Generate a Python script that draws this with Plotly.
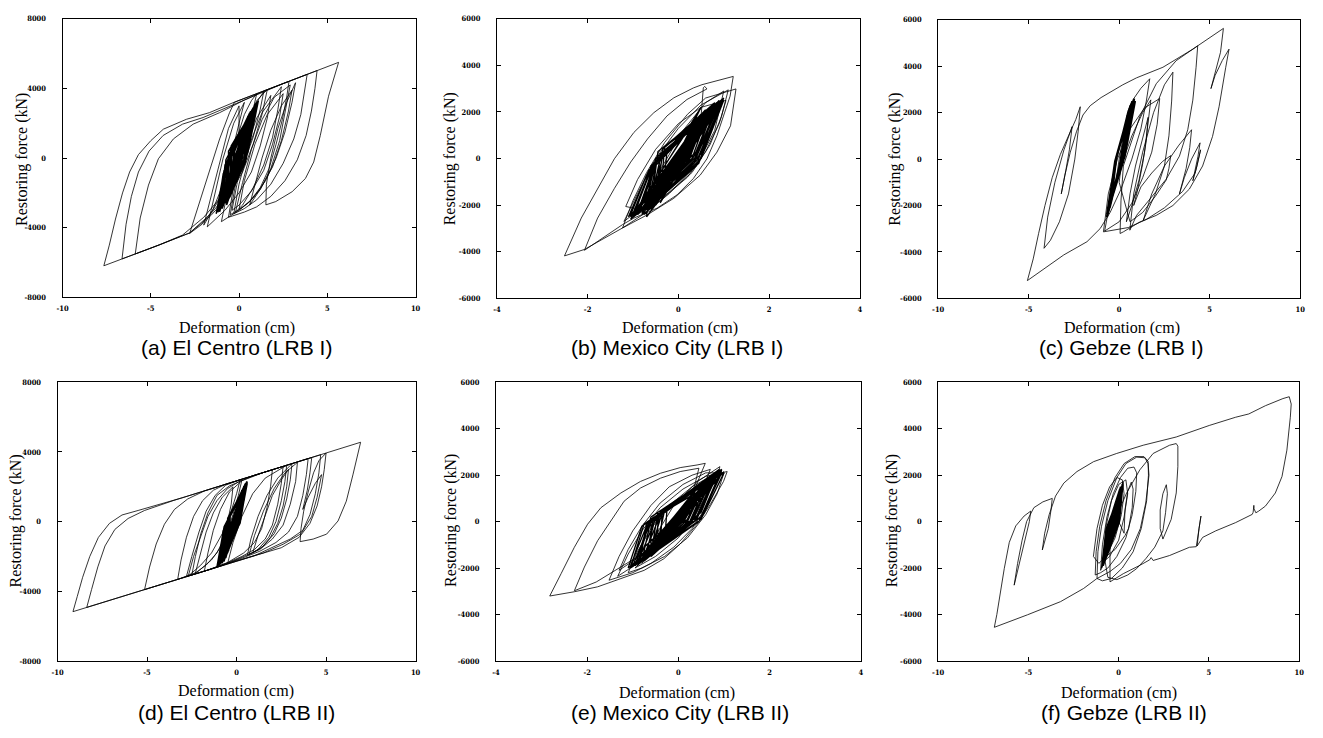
import plotly.graph_objects as go

# ---------------- data (deformation cm, restoring force kN) ----------------
el_centro_lrb1 = [
    (0,0),(0.4,1600),(-0.3,-1300),(0.6,2200),(-0.5,-2100),(0.7,2500),
    (0.3,1000),(-0.3,-700),(-0.9,-2000),(-1.5,-3000),(-2.1,-3800),(-2.8,-4330),
    (-2.23,-2500),(-1.67,-600),(-1.1,1100),(-0.54,2610),(-0.26,3210),(1.0,3700),(2.83,4410),
    (2.7,3500),(2.45,2200),(2.1,800),(1.7,-600),(1.2,-1700),(0.6,-2500),(0.0,-3000),(-1.0,-3650),
    (-0.7,-2200),(-0.4,-500),(-0.1,1200),(0.3,2500),(0.7,3300),(1.0,3700),
    (0.8,2800),(0.4,1200),(-0.2,-600),(-1.0,-2200),(-2.0,-3400),(-3.2,-4420),(-4.5,-4980),(-5.88,-5506),
    (-5.6,-3440),(-5.13,-1550),(-4.57,-40),(-3.72,1100),(-2.6,1950),(-1.1,2610),(0.3,3330),(1.5,3890),(3.0,4480),(4.5,5060),(5.64,5500),
    (5.07,3555),(4.6,1286),(4.23,-227),(3.76,-1172),(3.01,-1929),(2.08,-2497),(1.52,-2686),
    (1.55,-1500),(1.8,0),(2.2,1700),(2.7,3200),(3.2,4330),
    (3.0,3200),(2.6,1500),(2.1,0),(1.5,-1300),(0.8,-2300),(0.1,-2900),(-0.5,-3250),
    (-0.2,-1500),(0.2,500),(0.6,2200),(1.0,3300),(1.6,3935),
    (1.3,2500),(0.8,800),(0.2,-800),(-0.6,-2200),(-1.6,-3300),(-2.8,-4300),(-5.0,-5170),(-7.66,-6185),
    (-7.35,-5000),(-7.0,-3500),(-6.6,-2000),(-6.2,-800),(-5.7,200),(-5.0,1000),(-4.29,1660),(-2.98,2230),(-1.68,2610),(-0.35,3178),(1.5,3896),(3.0,4478),(4.42,5029),
    (4.3,4000),(4.1,2700),(3.8,1300),(3.3,-100),(2.6,-1300),(1.8,-2200),(1.0,-2800),(0.3,-3100),(-0.6,-3400),
    (-0.3,-1600),(0.1,400),(0.5,2100),(1.0,3200),(1.4,3830),
    (1.2,2800),(0.8,1200),(0.2,-500),(-0.6,-2000),(-1.6,-3200),(-2.8,-4300),(-4.5,-4980),(-6.63,-5790),
    (-6.4,-3800),(-6.1,-2200),(-5.7,-800),(-5.1,400),(-4.3,1300),(-3.2,1950),(-2.04,2330),(-0.5,3000),(1.0,3650),(2.5,4280),(3.86,4812),
    (3.7,3800),(3.5,2500),(3.1,1100),(2.5,-300),(1.8,-1500),(1.0,-2400),(0.3,-2900),(-0.3,-3200),
    (0.0,-1500),(0.6,800),(1.3,2600),(2.4,4100),
    (2.2,2800),(1.9,1200),(1.4,-400),(0.8,-1700),(0.2,-2700),(-0.2,-3100),
    (0.2,-1400),(0.7,500),(1.3,2200),(2.0,3500),(2.9,4200),
    (2.6,2600),(2.3,1000),(1.8,-600),(1.2,-1800),(0.6,-2700),
    (0.9,-1500),(1.3,0),(1.8,1600),(2.4,3000),(3.0,3900),
    (2.8,2700),(2.4,1000),(1.9,-500),(1.2,-1800),(0.5,-2600),(0.0,-2950),
    (0.3,-1300),(0.9,800),(1.6,2500),(2.5,3700),
    (2.3,2400),(1.9,800),(1.4,-700),(0.7,-1900),(0.0,-2700),(-0.4,-3000),
    (-0.1,-1400),(0.4,600),(1.0,2300),(1.8,3600),
    (1.6,2300),(1.2,700),(0.7,-800),(0.0,-2000),(-0.8,-3000),(-1.8,-3950),
    (-1.4,-2200),(-0.9,0),(-0.3,2000),(0.3,3200),
    (0.0,2000),(-0.4,300),(-0.9,-1500),(-1.5,-3000),(-2.0,-3850),
    (-1.6,-2300),(-1.1,-300),(-0.6,1700),(0.0,3000),(0,0),
]
core_a = [
    (-1.0,-2900),(-0.7,-200),(0.7,2700),(0.2,100),(-0.6,-2400),(-0.6,400),(0.9,3000),(0.35,-300),
    (-1.2,-3100),(-0.8,-600),(0.4,2000),(0.0,-200),(-0.4,-2000),(-0.5,500),(1.0,3200),(0.45,200),
    (-0.9,-2700),(-0.75,-100),(0.6,2500),(0.15,-100),(-1.3,-3200),(-0.85,-700),(0.8,2900),(0.3,-400),
    (-0.7,-2500),(-0.55,200),(0.3,1700),(-0.1,-100),(-0.3,-1700),(-0.45,700),(1.1,3300),(0.5,300),
    (-1.1,-3000),(-0.7,-300),(0.5,2300),(0.05,-300),(-0.8,-2600),(-0.6,0),(0.95,3100),(0.4,0),
    (-0.5,-2200),(-0.5,300),(0.2,1500),(-0.15,-200),(-1.0,-2800),(-0.65,-100),(0.75,2800),(0.25,-200),
    (-0.6,-2300),(-0.35,600),(0.6,2600),(0.3,400),(-1.2,-2900),(-0.9,-900),(0.35,1900),(-0.05,-500),
    (-0.35,-1800),(-0.3,400),(0.85,2900),(0.35,100),(-0.9,-2600),(-0.5,100),(0.5,2200),(0.2,0),
    (-0.7,-2700),(-0.7,-400),(1.0,3100),(0.4,-100),(-1.15,-3000),(-0.6,-200),(0.65,2500),(0.1,-100),
    (-0.45,-2000),(-0.4,200),(0.4,2100),(0.1,100),(-0.85,-2500),(-0.6,-300),(0.8,2700),(0.3,-200),
    (-0.55,-2300),(-0.2,800),(0.7,2400),(0.4,600),(-1.05,-2800),(-0.8,-400),(0.25,1600),(-0.1,-300),
    (-0.25,-1500),(-0.25,400),(0.55,2300),(0.2,300),(-0.95,-2900),(-0.55,0),(0.9,2900),(0.3,0),
    (-0.65,-2400),(-0.45,0),(0.45,2200),(0.05,0),
    (-1.0,-2800),(0.7,2700),(-0.7,-2600),(0.9,3100),(-1.2,-3000),(0.5,2400),(-0.5,-2200),(1.0,3200),
    (-0.9,-2700),(0.6,2600),(-1.1,-3100),(0.8,2900),(-0.6,-2400),(0.4,2000),(-0.8,-2500),(0.95,3000),
    (-1.3,-3200),(0.65,2700),
]

mexico_lrb1 = [
    (0,0),(0.4,1400),(-0.3,-1000),(0.5,1600),(-0.5,-1700),
    (-0.8,-2300),(-0.4,-500),(0.1,1200),(0.6,2400),(1.0,2900),
    (0.8,1200),(0.4,-300),(-0.2,-1500),(-0.7,-2300),(-1.23,-2977),
    (-1.0,-1800),(-0.7,-600),(-0.3,700),(0.2,1900),(0.6,2600),(1.27,2990),
    (1.15,1408),(0.85,276),(0.48,-713),(-0.10,-1705),(-0.68,-2409),(-1.23,-2977),(-2.07,-3900),(-2.51,-4177),
    (-2.14,-2553),(-1.78,-1281),(-1.41,-8),(-0.98,1124),(-0.54,1972),(-0.10,2608),(0.33,3032),(0.52,3172),(1.21,3528),
    (1.14,2680),(0.99,1831),(0.85,983),(0.63,-8),(0.33,-857),(-0.03,-1560),(-0.47,-2129),(-0.98,-2553),(-1.23,-2833),(-2.07,-3937),
    (-1.78,-2553),(-1.41,-1281),(-1.05,-148),(-0.68,842),(-0.25,1831),(0.19,2538),(0.63,2990),
    (0.58,3100),(0.55,3040),
    (0.5,1800),(0.2,300),(-0.3,-1100),(-0.8,-2100),(-1.2,-2700),
    (-0.9,-1500),(-0.5,0),(0.0,1300),(0.5,2300),(1.1,2950),
    (0.95,1800),(0.7,600),(0.3,-600),(-0.3,-1600),(-0.8,-2200),(-1.16,-2057),
    (-0.9,-900),(-0.5,400),(0.0,1500),(0.5,2200),(1.05,2500),
    (0.9,1500),(0.6,300),(0.2,-800),(-0.4,-1800),(-0.9,-2400),(0,0),
]
core_b = [
    (-0.9,-2400),(-0.5,-100),(0.8,2300),(0.35,100),(-0.6,-2000),(-0.45,300),(0.95,2500),(0.45,-200),
    (-1.05,-2600),(-0.6,-400),(0.6,1900),(0.15,-100),(-0.45,-1700),(-0.35,400),(1.0,2600),(0.5,200),
    (-0.85,-2300),(-0.55,-200),(0.7,2200),(0.3,0),(-1.1,-2500),(-0.65,-500),(0.85,2400),(0.4,-300),
    (-0.7,-2200),(-0.45,100),(0.5,1700),(0.1,-100),(-0.4,-1600),(-0.3,500),(0.9,2300),(0.45,300),
    (-1.0,-2500),(-0.55,-200),(0.65,2000),(0.2,-200),(-0.75,-2400),(-0.5,0),(1.0,2500),(0.5,0),
    (-0.5,-1900),(-0.4,200),(0.45,1600),(0.05,-100),(-0.95,-2300),(-0.6,-300),(0.75,2300),(0.35,-100),
    (-0.6,-2100),(-0.3,500),(0.8,2400),(0.45,400),(-1.05,-2400),(-0.7,-700),(0.55,1800),(0.1,-400),
    (-0.35,-1500),(-0.25,300),(0.9,2500),(0.4,100),(-0.85,-2200),(-0.45,0),(0.6,2000),(0.25,0),
    (-0.7,-2500),(-0.6,-300),(0.95,2400),(0.4,-100),(-0.9,-2300),(-0.5,-100),(0.7,2100),(0.2,0),
    (-0.5,-2000),(-0.35,200),(0.5,1900),(0.2,200),(-0.8,-2400),(-0.5,-200),(0.85,2300),(0.35,-200),
    (-0.65,-2200),(-0.4,0),(0.6,2100),(0.25,100),
    (-0.9,-2400),(0.85,2400),(-0.7,-2300),(0.95,2500),(-1.0,-2500),(0.5,2200),(-0.6,-2200),(1.0,2500),
    (-0.8,-2300),(0.6,2000),(-1.05,-2500),(0.9,2300),(-0.5,-1800),(0.75,2300),(-0.95,-2400),(0.8,2400),
    (-0.75,-2200),(0.65,2100),(-1.0,-2400),(0.4,1800),(-0.4,-1900),(0.9,2400),
    (-0.5,-1500),(0.3,1200),(-0.4,-1000),(0.45,1500),(-0.6,-1700),(0.2,900),(-0.3,-700),(0.5,1700),
    (-0.55,-1300),(0.35,1300),(-0.2,-500),(0.25,900),(-0.45,-1200),(0.4,1100),(-0.35,-1000),(0.55,1800),
    (-0.65,-1800),(0.15,600),(-0.25,-900),(0.3,1000),(-0.5,-1100),(0.1,400),(-0.15,-300),(0.35,900),
    (-0.6,-1400),(0.5,1400),(-0.3,-1200),(0.2,700),(0,0),
]

gebze_lrb1 = [
    (0,0),(0.45,1900),(0.15,0),(-0.5,-2000),(-0.15,0),(0.6,2300),(0.2,0),(-0.6,-2300),(-0.2,0),(0.8,2600),
    (1.2,3050),(1.69,3460),
    (1.5,2500),(1.2,1300),(0.7,0),(0.1,-1300),(-0.5,-2300),(-1.05,-2993),(-1.78,-3560),(-3.06,-4128),(-5.07,-5234),
    (-4.75,-4300),(-4.45,-3200),(-4.1,-2000),(-3.7,-800),(-3.25,200),(-2.8,1000),(-2.4,1700),(-2.15,2255),
    (-2.25,1300),(-2.45,0),(-2.8,-1500),(-3.3,-2700),(-3.8,-3500),(-4.15,-3843),
    (-3.95,-2500),(-3.55,-1000),(-3.05,400),(-2.6,1400),
    (-2.75,400),(-2.95,-500),(-3.2,-1500),
    (-3.0,-700),(-2.7,300),(-2.35,1200),(-2.0,1900),(-1.6,2300),(-1.0,2650),(-0.5,2894),(0.2,3200),(0.96,3500),(2.42,3957),(4.07,4736),(5.76,5630),
    (5.6,4600),(5.3,3700),(5.07,3034),
    (5.3,3600),(5.7,4250),(6.07,4736),
    (5.89,3957),(5.52,2255),(5.16,979),(4.61,-298),(3.88,-1291),(2.97,-2000),(2.05,-2426),(1.14,-2709),(0.23,-3135),(0.05,-3206),
    (0.1,-1800),(0.23,-298),(1.14,1830),(2.05,3247),(3.15,4240),(4.34,4880),
    (4.25,3957),(4.07,2540),(3.79,1264),(3.33,128),(2.6,-864),(1.69,-1715),(0.96,-2426),(0.59,-3064),
    (0.8,-1500),(1.3,300),(1.9,2000),(2.5,3200),(2.97,3745),
    (2.9,2500),(2.75,1000),(2.5,-300),(2.0,-1500),(1.33,-2638),
    (1.8,-1500),(2.5,-300),(3.3,600),(4.0,1264),
    (3.9,500),(3.7,-400),(3.33,-1500),
    (3.6,-800),(4.0,0),(4.47,700),
    (4.35,100),(4.07,-936),
    (4.3,-300),(4.5,400),
    (4.2,-600),(3.5,-1400),(2.5,-2100),(1.5,-2600),(0.5,-2950),(-0.87,-3135),
    (-0.6,-1500),(-0.1,0),(0.6,1300),(1.4,2200),(2.24,2610),
    (2.1,1500),(1.8,300),(1.3,-800),(0.7,-1900),(0.0,-2700),(-0.8,-3100),
    (-0.5,-1800),(0.1,-300),(0.7,1000),(1.3,2000),(1.75,2550),
    (1.6,1500),(1.4,300),(1.1,-900),(0.7,-2000),(0.4,-2700),
    (0.6,-1500),(0.9,-300),(1.3,900),(1.6,1800),
    (1.5,800),(1.3,-200),(1.0,-1400),(0.8,-2000),
    (1.2,-1200),(1.8,-600),(2.4,-100),(2.85,150),(2.75,-400),(2.6,-900),(2.0,-1600),(1.3,-2300),(0.6,-2700),
    (0.0,-1000),(0.3,900),(-0.2,-1100),(0,0),
]
core_c = [
    (-0.6,-2300),(-0.2,0),(0.65,2400),(0.2,0),(-0.5,-2000),(-0.15,100),(0.8,2600),(0.25,-100),
    (-0.7,-2500),(-0.25,-100),(0.5,2000),(0.1,0),(-0.45,-1800),(-0.1,200),(0.7,2500),(0.25,100),
    (-0.65,-2400),(-0.2,-100),(0.55,2200),(0.15,0),(-0.55,-2200),(-0.15,0),(0.75,2500),(0.2,0),
    (-0.7,-2400),(-0.25,-200),(0.45,1900),(0.05,-100),(-0.4,-1700),(-0.1,300),(0.85,2600),(0.3,200),
    (-0.6,-2300),(-0.2,0),(0.6,2300),(0.15,0),(-0.5,-2100),(-0.15,0),(0.7,2400),(0.2,0),
    (-0.65,-2500),(-0.2,-100),(0.5,2100),(0.1,0),(-0.55,-2000),(-0.15,100),(0.9,2500),(0.3,0),
]

el_centro_lrb2 = [
    (0,0),(0.55,2300),
    (0.4,1200),(-0.1,0),(-0.7,-1200),(-1.4,-2200),(-2.2,-2900),(-3.29,-3318),
    (-3.1,-2200),(-2.8,-900),(-2.4,300),(-1.9,1200),(-1.3,1800),(-0.6,2150),(0.5,2500),(2.0,2980),
    (1.9,2000),(1.7,800),(1.4,-400),(1.0,-1200),(0.4,-1800),(-0.5,-2350),(-1.5,-2750),(-2.5,-3070),
    (-2.3,-2000),(-2.0,-700),(-1.6,500),(-1.1,1500),(-0.4,2050),(1.0,2660),(2.6,3170),
    (2.5,2200),(2.3,1000),(2.0,-200),(1.6,-1000),(1.0,-1600),(0.3,-2000),(-0.6,-2400),(-1.8,-2850),
    (-1.6,-1800),(-1.3,-500),(-0.9,700),(-0.4,1700),(0.3,2350),(1.5,2820),(3.2,3364),(4.7,3844),
    (4.6,2800),(4.4,1600),(4.1,400),(3.7,-500),(3.0,-1000),(2.0,-1500),(1.0,-1960),(0.0,-2275),(-1.0,-2592),(-3.0,-3226),(-5.14,-3904),
    (-4.86,-2610),(-4.49,-1286),(-4.03,-151),(-3.47,700),(-2.73,1300),(-1.8,1760),(-0.5,2180),(1.0,2660),(2.5,3140),(4.0,3620),
    (3.9,2700),(3.7,1500),(3.4,300),(2.9,-600),(2.2,-1200),(1.3,-1700),(0.3,-2100),(-1.0,-2592),(-4.0,-3543),(-8.37,-4928),
    (-8.1,-3900),(-7.75,-2600),(-7.35,-1400),(-6.8,-450),(-6.06,180),(-5.14,640),(-3.5,1220),(-1.5,1860),(1.0,2660),(3.5,3460),(6.93,4558),
    (6.5,2686),(6.13,1173),(5.67,38),(5.03,-719),(4.28,-1003),(3.55,-1150),
    (3.6,-400),(3.75,600),(4.0,1700),(4.3,2800),(4.6,3500),(5.0,3940),
    (4.9,3000),(4.75,2000),(4.5,900),(4.1,-100),(3.5,-900),(2.5,-1500),(1.0,-1960),(-1.0,-2592),(-3.0,-3226),(-6.0,-4177),(-9.14,-5172),
    (-8.9,-4300),(-8.6,-3200),(-8.2,-2000),(-7.72,-908),(-7.1,-100),(-6.4,380),(-5.5,640),(-3.0,1380),(0.0,2340),(2.5,3140),(4.2,3684),
    (4.1,2800),(3.95,1800),(3.7,700),
    (4.0,1400),(4.4,2200),(4.75,2700),
    (4.5,1400),(4.2,300),(3.6,-700),(2.6,-1300),(1.5,-1800),(0.5,-2100),(-0.5,-2400),
    (-0.2,-1200),(0.3,300),(0.9,1600),(1.6,2500),(2.8,3236),
    (2.7,2300),(2.5,1200),(2.2,0),(1.8,-900),(1.2,-1600),(0.6,-1950),
    (0.8,-1000),(1.2,300),(1.7,1500),(2.3,2500),(3.1,3330),
    (3.0,2400),(2.8,1300),(2.5,200),(2.1,-700),(1.5,-1400),(0.9,-1800),
    (1.2,-800),(1.6,400),(2.0,1500),(2.5,2400),(2.9,3000),
    (2.8,2000),(2.6,900),(2.3,-100),(1.9,-900),(1.4,-1500),(0.7,-1900),
    (1.0,-800),(1.5,600),(2.1,1900),(2.7,2800),(3.4,3400),
    (3.3,2300),(3.0,1000),(2.6,-200),(2.0,-1000),(1.3,-1600),(0.4,-2000),(-0.5,-2400),(-1.5,-2750),(-2.8,-3150),
    (-2.5,-2000),(-2.1,-600),(-1.7,600),(-1.2,1500),(-0.6,2100),(0.2,2400),
    (0.0,1600),(-0.3,600),(-0.8,-700),(-1.4,-1800),(-2.0,-2500),(-2.7,-3130),
    (-2.4,-2000),(-2.0,-800),(-1.6,300),(-1.1,1200),(-0.5,1900),(0.3,2400),
    (0.1,1500),(-0.2,400),(-0.6,-800),(-1.1,-1800),(-1.7,-2500),(-2.3,-2950),
    (-2.0,-1800),(-1.7,-600),(-1.3,500),(-0.8,1400),(-0.2,2000),
    (-0.3,1000),(-0.6,-500),(-0.9,-1800),(-1.0,-2300),(-0.5,-800),(0,0),
]
core_d = [
    (-0.9,-2400),(-0.6,-100),(0.5,2200),(0.15,0),(-0.6,-2000),(-0.5,200),(0.6,2300),(0.2,-100),
    (-1.1,-2600),(-0.7,-300),(0.3,1700),(-0.05,-100),(-0.45,-1700),(-0.4,300),(0.55,2200),(0.2,100),
    (-0.8,-2300),(-0.6,-100),(0.4,1900),(0.05,0),(-1.0,-2500),(-0.7,-400),(0.5,2100),(0.1,-200),
    (-0.7,-2200),(-0.5,0),(0.25,1500),(-0.1,-100),(-0.4,-1500),(-0.35,400),(0.6,2300),(0.25,200),
    (-0.95,-2500),(-0.6,-200),(0.35,1800),(0.0,-100),(-0.75,-2300),(-0.55,0),(0.55,2200),(0.2,0),
    (-0.55,-1900),(-0.45,200),(0.3,1600),(-0.05,0),(-1.05,-2600),(-0.75,-500),(0.45,2000),(0.1,-300),
    (-0.65,-2100),(-0.4,300),(0.5,2100),(0.25,300),(-0.85,-2400),(-0.6,-200),(0.4,1900),(0.05,-100),
    (-0.5,-1800),(-0.45,100),(0.6,2200),(0.2,0),(-0.9,-2300),(-0.55,0),(0.3,1700),(0.0,0),
    (-0.7,-2300),(-0.6,-200),(0.5,2000),(0.15,-100),(-1.0,-2400),(-0.6,-100),(0.45,2100),(0.1,0),
    (-1.0,-2500),(0.5,2200),(-0.8,-2400),(0.6,2300),(-1.1,-2600),(0.3,1800),(-0.6,-2100),(0.55,2200),
    (-0.9,-2300),(0.4,2000),(-1.05,-2500),(0.5,2100),(-0.7,-2300),(0.35,1800),(-0.95,-2400),(0.6,2200),
]

mexico_lrb2 = [
    (0,0),(-0.8,-1800),
    (-0.5,-600),(-0.1,700),(0.4,1700),(0.91,2369),
    (0.8,1500),(0.6,600),(0.3,-300),(-0.1,-1100),(-0.6,-1800),(-1.0,-2200),(-1.52,-2525),
    (-1.3,-1500),(-1.0,-400),(-0.6,700),(-0.2,1500),(0.3,2000),(0.7,2250),
    (0.55,1500),(0.35,700),(0.0,-300),(-0.5,-1300),(-1.0,-1950),(-1.33,-2355),
    (-1.1,-1400),(-0.8,-400),(-0.4,600),(0.1,1400),(0.6,1950),(1.07,2156),
    (0.99,1731),(0.70,738),(0.41,-113),(0.04,-965),(-0.32,-1603),(-0.75,-2099),(-1.26,-2454),(-1.77,-2809),(-2.28,-3021),(-2.82,-3206),
    (-2.57,-2241),(-2.28,-1106),(-1.99,-113),(-1.70,596),(-1.26,1234),(-0.83,1731),(-0.39,2085),(0.04,2326),(0.41,2440),(0.59,2511),
    (0.45,1850),(0.3,1100),(0.05,200),(-0.3,-600),(-0.8,-1400),(-1.4,-2100),(-1.8,-2600),(-2.28,-2979),
    (-2.06,-1957),(-1.77,-823),(-1.48,28),(-1.19,879),(-0.83,1447),(-0.39,1872),(0.04,2156),(0.45,2300),
    (0.35,1500),(0.15,600),(-0.2,-300),(-0.6,-1100),(-1.0,-1700),(-1.3,-2100),
    (-1.1,-1200),(-0.8,-200),(-0.4,800),(0.1,1600),(0.6,2100),(1.0,2100),
    (0.85,1200),(0.6,300),(0.2,-700),(-0.3,-1500),(-0.8,-2000),(-1.1,-2200),
    (-0.9,-1300),(-0.6,-300),(-0.2,700),(0.3,1500),(0.75,2000),
    (0.6,1100),(0.35,200),(0.0,-700),(-0.5,-1500),(-0.95,-2000),(0,0),
]
core_e = [
    (-0.9,-1800),(-0.6,200),(0.85,2100),(0.4,200),(-0.6,-1400),(-0.45,400),(0.95,2200),(0.5,100),
    (-1.05,-2000),(-0.75,-100),(0.6,1700),(0.2,100),(-0.4,-1100),(-0.35,500),(1.0,2100),(0.55,300),
    (-0.8,-1700),(-0.6,100),(0.75,1900),(0.3,0),(-1.1,-2000),(-0.8,-200),(0.5,1500),(0.1,0),
    (-0.55,-1300),(-0.4,400),(0.9,2250),(0.45,300),(-0.75,-1700),(-0.5,200),(0.65,1800),(0.25,0),
    (-0.3,-800),(-0.25,500),(0.45,1300),(0.15,300),(-0.95,-1900),(-0.65,0),(0.95,2250),(0.45,0),
    (-0.65,-1500),(-0.35,400),(0.7,1900),(0.35,200),(-0.85,-1800),(-0.7,-100),(0.55,1600),(0.15,-100),
    (-0.5,-1300),(-0.3,500),(0.85,2100),(0.5,400),(-1.0,-1900),(-0.6,0),(0.8,2000),(0.35,0),
    (-0.7,-1600),(-0.55,100),(0.6,1700),(0.2,0),(-0.45,-1200),(-0.45,300),(0.9,2200),(0.4,100),
    (-0.9,-1800),(-0.5,100),(0.7,1800),(0.3,100),(-0.6,-1500),(-0.6,0),(0.5,1500),(0.1,-100),
    (-0.8,-1700),(-0.4,300),(0.95,2100),(0.5,200),(-1.05,-1900),(-0.7,-200),(0.65,1900),(0.25,-100),
    (-0.9,-1800),(0.9,2200),(-0.7,-1600),(0.8,2000),(-1.0,-1900),(0.6,1700),(-0.5,-1300),(0.95,2200),
    (-0.8,-1700),(0.7,1900),(-1.05,-2000),(0.85,2100),(-0.6,-1500),(0.5,1500),(-0.9,-1900),(1.0,2150),
    (-0.4,-1100),(0.75,2000),(-0.95,-1800),(0.65,1800),
    (-0.5,-1000),(0.4,1400),(-0.3,-600),(0.6,1600),(-0.6,-1200),(0.3,1100),(-0.2,-300),(0.5,1500),
    (-0.7,-1400),(0.2,900),(-0.4,-800),(0.7,1700),(-0.55,-900),(0.35,1300),(-0.25,-500),(0.45,1200),
    (-0.65,-1300),(0.55,1400),(-0.35,-700),(0.25,1000),(-0.45,-600),(0.15,700),(-0.1,-200),(0.35,800),
    (-0.75,-1100),(0.4,1000),(0,0),
]

gebze_lrb2 = [
    (0,0),(0.3,-500),(0.35,500),(0.5,1300),(0.7,1700),(0.8,1400),(0.75,600),(0.55,-300),(0.35,-600),
    (-0.2,-1200),(-0.7,-1500),(-1.1,-1800),(-1.4,-1500),(-1.2,-300),(-0.9,700),(-0.5,1500),(-0.1,1900),
    (0.2,1800),(0.3,1200),(0.15,300),(-0.2,-700),(-0.7,-1500),(-1.0,-2100),
    (-0.9,-1000),(-0.65,200),(-0.3,1200),(0.1,1900),(0.5,2300),(0.85,2350),(1.0,2100),(0.95,1300),
    (0.75,300),(0.4,-700),(-0.1,-1500),(-0.6,-2000),(-1.0,-2200),(-1.3,-2300),
    (-1.25,-1300),(-1.05,-200),(-0.7,900),(-0.2,1900),(0.3,2500),(0.9,2800),(1.4,2800),(1.63,2600),
    (1.65,2000),(1.55,900),(1.25,-300),(0.8,-1300),(0.2,-2000),(-0.4,-2450),(-0.9,-2550),(-1.2,-2450),
    (-1.15,-1300),(-0.95,-200),(-0.6,900),(-0.1,1900),(0.4,2500),(1.0,2780),(1.45,2750),(1.63,2500),
    (1.68,2000),(1.5,800),(1.2,-300),(0.7,-1200),(0.1,-1800),(-0.48,-2150),(-1.21,-2454),(-1.94,-2879),
    (-3.22,-3447),(-5.05,-4014),(-6.89,-4553),
    (-6.75,-4000),(-6.61,-3305),(-6.34,-2028),(-6.06,-894),(-5.70,-184),(-5.24,241),(-4.87,454),
    (-4.95,0),(-5.2,-800),(-5.5,-1700),(-5.79,-2738),(-5.6,-1800),(-5.35,-800),(-5.1,0),(-4.7,600),(-4.2,850),(-3.68,1000),
    (-3.75,500),(-3.9,-300),(-4.23,-1220),(-4.1,-500),(-3.85,300),(-3.5,1100),(-3.04,1660),(-2.31,2156),
    (-1.39,2582),(-0.11,2936),(1.36,3291),(3.19,3645),(5.02,4142),(6.48,4496),(7.21,4638),(8.13,4993),
    (9.1,5300),(9.45,5380),(9.56,5064),
    (9.51,4496),(9.32,3078),(9.05,1944),(8.68,1234),(8.13,667),(7.76,454),(7.6,380),(7.5,550),(7.49,700),
    (7.45,400),(7.4,312),(6.48,-43),(5.38,-397),(4.65,-681),(4.35,-1050),
    (4.45,-300),(4.56,241),(4.45,-500),(4.3,-1080),
    (3.92,-1106),(2.82,-1461),(1.91,-1674),(1.8,-1550),(1.72,-1645),(1.17,-1886),(0.26,-2241),(-0.48,-2596),
    (-0.48,-1177),(-0.11,241),(0.44,1234),(1.17,2227),(1.91,2936),(2.82,3291),(3.19,3362),(3.28,3250),
    (3.28,2369),(3.19,1234),(2.91,98),(2.45,-752),
    (2.3,-300),(2.3,500),(2.45,1200),(2.64,1589),(2.7,1200),(2.6,400),(2.45,-400),
    (2.0,-1100),(1.5,-1600),(0.99,-2028),(0.5,-2300),(-0.1,-2500),(-0.6,-2400),
    (-0.8,-1500),(-0.7,-200),(-0.4,900),(0.0,1600),(0.4,1800),(0.5,1200),(0.3,200),(0.0,-800),
    (-0.5,-1500),(-0.8,-1700),(-0.5,-300),(-0.2,600),(0,0),
]
core_f = [
    (-0.85,-1800),(-0.6,-200),(0.05,1400),(-0.15,0),(-0.6,-1300),(-0.45,100),(0.2,1600),(0.0,0),
    (-0.95,-2000),(-0.7,-300),(-0.05,1000),(-0.2,-200),(-0.5,-1100),(-0.4,200),(0.15,1500),(-0.05,100),
    (-0.75,-1600),(-0.55,-100),(0.1,1300),(-0.1,0),(-0.9,-1900),(-0.65,-300),(0.25,1700),(0.05,0),
    (-0.65,-1500),(-0.5,0),(0.0,1100),(-0.2,-100),(-0.4,-900),(-0.35,300),(0.2,1500),(0.0,100),
    (-0.8,-1700),(-0.6,-200),(-0.1,900),(-0.25,-200),(-0.7,-1500),(-0.5,0),(0.15,1400),(-0.05,0),
    (-0.9,-1800),(-0.6,-100),(0.05,1200),(-0.15,-100),(-0.55,-1200),(-0.45,100),(0.25,1600),(0.0,100),
    (-0.85,-1900),(-0.7,-400),(0.0,1000),(-0.2,-300),(-0.6,-1400),(-0.4,200),(0.1,1500),(-0.05,100),
    (-0.75,-1700),(-0.55,0),(0.2,1300),(-0.05,0),
    (-0.85,-1800),(0.1,1400),(-0.7,-1600),(0.2,1600),(-0.95,-2000),(0.0,1200),(-0.6,-1400),(0.15,1500),
    (-0.8,-1700),(0.05,1300),(-0.9,-1900),(0.25,1700),(-0.5,-1200),(0.1,1400),
]

ticks_x10 = [-10, -5, 0, 5, 10]
ticks_x4 = [-4, -2, 0, 2, 4]
ticks_y8 = [-8000, -4000, 0, 4000, 8000]
ticks_y6 = [-6000, -4000, -2000, 0, 2000, 4000, 6000]

captions = ["(a) El Centro (LRB I)", "(b) Mexico City (LRB I)", "(c) Gebze (LRB I)",
            "(d) El Centro (LRB II)", "(e) Mexico City (LRB II)", "(f) Gebze (LRB II)"]
x_title = "Deformation (cm)"
y_title = "Restoring force (kN)"

# ---------------- layout geometry (pixels) ----------------
W, H = 1323, 738
panels = [
    dict(pts=el_centro_lrb1, core=core_a, xt=ticks_x10, yt=ticks_y8, box=(57, 413, 15, 297),
         cap=(232, 348), xtl=(233, 328), ytl=(16, 157)),
    dict(pts=mexico_lrb1, core=core_b, xt=ticks_x4, yt=ticks_y6, box=(495, 861, 15, 298),
         cap=(677, 348), xtl=(680, 328), ytl=(448, 157)),
    dict(pts=gebze_lrb1, core=core_c, xt=ticks_x10, yt=ticks_y6, box=(940, 1305, 16, 298),
         cap=(1125, 348), xtl=(1125, 328), ytl=(897, 157)),
    dict(pts=el_centro_lrb2, core=core_d, xt=ticks_x10, yt=ticks_y8, box=(52, 413, 383, 665),
         cap=(232, 717), xtl=(232, 695), ytl=(10, 523)),
    dict(pts=mexico_lrb2, core=core_e, xt=ticks_x4, yt=ticks_y6, box=(494, 862, 383, 665),
         cap=(680, 717), xtl=(677, 697), ytl=(448, 523)),
    dict(pts=gebze_lrb2, core=core_f, xt=ticks_x10, yt=ticks_y6, box=(940, 1304, 383, 665),
         cap=(1127, 717), xtl=(1122, 697), ytl=(893, 523)),
]

fig = go.Figure()
layout = dict(width=W, height=H, margin=dict(l=0, r=0, t=0, b=0),
              paper_bgcolor="white", plot_bgcolor="white", showlegend=False)
annotations = []
tickfont = dict(family="DejaVu Serif Condensed, DejaVu Serif", size=7.5, color="#000000", weight="bold")

for i, p in enumerate(panels, start=1):
    sfx = "" if i == 1 else str(i)
    for key, wid in (("pts", 0.8), ("core", 1.3)):
        xs = [q[0] for q in p[key]]
        ys = [q[1] for q in p[key]]
        fig.add_trace(go.Scatter(x=xs, y=ys, mode="lines", xaxis="x" + sfx, yaxis="y" + sfx,
                                 line=dict(color="black", width=wid), hoverinfo="skip"))
    x0, x1, y0, y1 = p["box"]
    common = dict(showline=True, linecolor="black", linewidth=1, mirror="allticks",
                  ticks="inside", ticklen=4, tickwidth=1, tickcolor="black",
                  showgrid=False, zeroline=False, tickfont=tickfont)
    layout["xaxis" + sfx] = dict(domain=[x0 / W, x1 / W], anchor="y" + sfx,
                                 range=[p["xt"][0], p["xt"][-1]], tickvals=p["xt"],
                                 ticktext=[str(v) for v in p["xt"]], ticklabelstandoff=4, **common)
    layout["yaxis" + sfx] = dict(domain=[1 - y1 / H, 1 - y0 / H], anchor="x" + sfx,
                                 range=[p["yt"][0], p["yt"][-1]], tickvals=p["yt"],
                                 ticktext=[str(v) for v in p["yt"]], ticklabelstandoff=14, **common)
    annotations.append(dict(text=captions[i - 1], x=p["cap"][0] / W, y=1 - p["cap"][1] / H,
                            xref="paper", yref="paper", showarrow=False, xanchor="center", yanchor="middle",
                            font=dict(family="Liberation Sans", size=21, color="black")))
    annotations.append(dict(text=x_title, x=p["xtl"][0] / W, y=1 - p["xtl"][1] / H,
                            xref="paper", yref="paper", showarrow=False, xanchor="center", yanchor="middle",
                            font=dict(family="Liberation Serif", size=16, color="black")))
    annotations.append(dict(text=y_title, x=p["ytl"][0] / W, y=1 - p["ytl"][1] / H, textangle=-90,
                            xref="paper", yref="paper", showarrow=False, xanchor="center", yanchor="middle",
                            font=dict(family="Liberation Serif", size=16, color="black")))

layout["annotations"] = annotations
fig.update_layout(**layout)
fig.write_html("out.html", config={"displayModeBar": False},
               post_script="document.body.style.margin='0px';")
